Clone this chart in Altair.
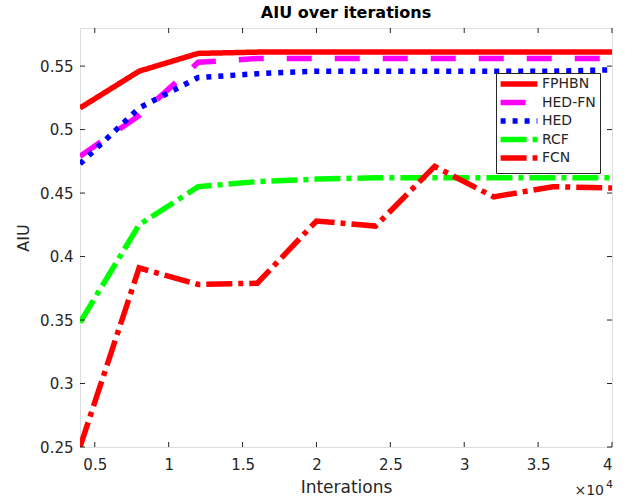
import altair as alt
import pandas as pd

iterations = [0.4, 0.8, 1.2, 1.6, 2.0, 2.4, 2.8, 3.2, 3.6, 4.0]
series_names = ["FPHBN", "HED-FN", "HED", "RCF", "FCN"]
fphbn = [0.517, 0.546, 0.560, 0.561, 0.561, 0.561, 0.561, 0.561, 0.561, 0.561]
hed_fn = [0.479, 0.511, 0.553, 0.556, 0.556, 0.556, 0.556, 0.556, 0.556, 0.556]
hed = [0.473, 0.517, 0.541, 0.544, 0.546, 0.546, 0.546, 0.546, 0.546, 0.547]
rcf = [0.348, 0.425, 0.455, 0.459, 0.461, 0.462, 0.462, 0.462, 0.462, 0.462]
fcn = [0.250, 0.391, 0.378, 0.379, 0.428, 0.424, 0.471, 0.447, 0.455, 0.454]
x_ticks = [0.5, 1.0, 1.5, 2.0, 2.5, 3.0, 3.5, 4.0]
y_ticks = [0.25, 0.30, 0.35, 0.40, 0.45, 0.50, 0.55]

colors = ["#ff0000", "#ff00ff", "#0000ff", "#00ff00", "#ff0000"]
dashes = [[1, 0], [25, 23], [5, 7], [26, 6, 5, 6], [26, 6, 5, 6]]

rows = []
for name, vals in zip(series_names, [fphbn, hed_fn, hed, rcf, fcn]):
    for it, v in zip(iterations, vals):
        rows.append({"it": it, "aiu": v, "series": name})
df = pd.DataFrame(rows)

W, H = 532, 419
xs = alt.Scale(domain=[0.4, 4.0], nice=False, zero=False)
ys = alt.Scale(domain=[0.25, 0.58], nice=False, zero=False)
axis_col = "#262626"
font = "DejaVu Sans"


def make_legend():
    return alt.Legend(title=None, orient="none", legendX=416, legendY=45,
                      symbolType="M-4.6,0H4.6", symbolSize=64, symbolStrokeWidth=5.5,
                      labelFontSize=14, labelFont=font, labelColor=axis_col,
                      strokeColor="#262626", fillColor="white", padding=4,
                      rowPadding=-3.5, labelOffset=16, symbolOffset=12)


lines = alt.Chart(df).mark_line(strokeWidth=5.5, strokeCap="butt", clip=True).encode(
    x=alt.X("it:Q", scale=xs, title="Interations",
            axis=alt.Axis(values=x_ticks, format="~g", ticks=False, domain=False, grid=False,
                          labelFontSize=15, labelColor=axis_col, labelPadding=10, labelFont=font,
                          titleFontSize=17, titleFont=font, titleFontWeight="normal",
                          titleColor=axis_col, titlePadding=7)),
    y=alt.Y("aiu:Q", scale=ys, title="AIU",
            axis=alt.Axis(values=y_ticks, format="~g", ticks=False, domain=False, grid=False,
                          labelFontSize=15, labelColor=axis_col, labelPadding=7, labelFont=font,
                          titleFontSize=16, titleFont=font, titleFontWeight="normal",
                          titleColor=axis_col, titlePadding=8)),
    color=alt.Color("series:N", sort=series_names,
                    scale=alt.Scale(domain=series_names, range=colors),
                    legend=make_legend()),
    strokeDash=alt.StrokeDash("series:N", sort=series_names,
                              scale=alt.Scale(domain=series_names, range=dashes),
                              legend=make_legend()),
)

xt = pd.DataFrame({"v": x_ticks})
yt = pd.DataFrame({"v": y_ticks})
tick_col = "#262626"
xb = alt.Chart(xt).mark_rule(color=tick_col, strokeWidth=1).encode(
    x=alt.X("v:Q", scale=xs), y=alt.value(H), y2=alt.value(H - 5))
xtop = alt.Chart(xt).mark_rule(color=tick_col, strokeWidth=1).encode(
    x=alt.X("v:Q", scale=xs), y=alt.value(0), y2=alt.value(5))
yl = alt.Chart(yt).mark_rule(color=tick_col, strokeWidth=1).encode(
    y=alt.Y("v:Q", scale=ys), x=alt.value(0), x2=alt.value(5))
yr = alt.Chart(yt).mark_rule(color=tick_col, strokeWidth=1).encode(
    y=alt.Y("v:Q", scale=ys), x=alt.value(W), x2=alt.value(W - 5))

exp_base = alt.Chart(pd.DataFrame({"t": ["×10"]})).mark_text(
    fontSize=14, font=font, color=axis_col, align="right", baseline="alphabetic").encode(
    text="t:N", x=alt.value(W - 8), y=alt.value(H + 48))
exp_pow = alt.Chart(pd.DataFrame({"t": ["4"]})).mark_text(
    fontSize=11, font=font, color=axis_col, align="right", baseline="alphabetic").encode(
    text="t:N", x=alt.value(W + 1), y=alt.value(H + 41))

chart = alt.layer(lines, xb, xtop, yl, yr, exp_base, exp_pow).properties(
    width=W, height=H,
    title=alt.TitleParams("AIU over iterations", fontSize=16, font=font, fontWeight="bold",
                          color="#000000", anchor="middle", offset=7),
    autosize=alt.AutoSizeParams(type="none"),
    padding={"left": 80, "top": 28, "right": 20, "bottom": 53},
).configure_view(
    stroke="#262626", strokeWidth=1
).configure(background="white")

chart.save("out.html", embed_options={"renderer": "svg", "actions": False})
